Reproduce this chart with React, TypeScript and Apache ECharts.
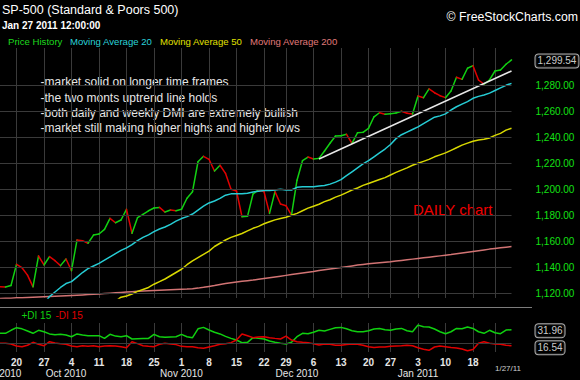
import { useEffect, useRef } from 'react';
import * as echarts from 'echarts';

// ---------- data ----------
const tradingDays = [
  '2010-09-15', '2010-09-16', '2010-09-17',
  '2010-09-20', '2010-09-21', '2010-09-22', '2010-09-23', '2010-09-24',
  '2010-09-27', '2010-09-28', '2010-09-29', '2010-09-30', '2010-10-01',
  '2010-10-04', '2010-10-05', '2010-10-06', '2010-10-07', '2010-10-08',
  '2010-10-11', '2010-10-12', '2010-10-13', '2010-10-14', '2010-10-15',
  '2010-10-18', '2010-10-19', '2010-10-20', '2010-10-21', '2010-10-22',
  '2010-10-25', '2010-10-26', '2010-10-27', '2010-10-28', '2010-10-29',
  '2010-11-01', '2010-11-02', '2010-11-03', '2010-11-04', '2010-11-05',
  '2010-11-08', '2010-11-09', '2010-11-10', '2010-11-11', '2010-11-12',
  '2010-11-15', '2010-11-16', '2010-11-17', '2010-11-18', '2010-11-19',
  '2010-11-22', '2010-11-23', '2010-11-24', '2010-11-26',
  '2010-11-29', '2010-11-30', '2010-12-01', '2010-12-02', '2010-12-03',
  '2010-12-06', '2010-12-07', '2010-12-08', '2010-12-09', '2010-12-10',
  '2010-12-13', '2010-12-14', '2010-12-15', '2010-12-16', '2010-12-17',
  '2010-12-20', '2010-12-21', '2010-12-22', '2010-12-23',
  '2010-12-27', '2010-12-28', '2010-12-29', '2010-12-30', '2010-12-31',
  '2011-01-03', '2011-01-04', '2011-01-05', '2011-01-06', '2011-01-07',
  '2011-01-10', '2011-01-11', '2011-01-12', '2011-01-13', '2011-01-14',
  '2011-01-18', '2011-01-19', '2011-01-20', '2011-01-21',
  '2011-01-24', '2011-01-25', '2011-01-26', '2011-01-27',
];

const closePrices = [
  1125.1, 1124.8, 1126.0, 1142.3, 1139.7, 1134.0, 1125.0, 1148.7, 1141.8, 1148.2,
  1145.1, 1141.3, 1146.4, 1137.4, 1161.0, 1160.5, 1158.5, 1164.8, 1165.6, 1169.2,
  1177.7, 1174.3, 1176.4, 1184.6, 1166.2, 1178.2, 1180.8, 1183.5, 1185.6, 1186.1,
  1182.5, 1184.1, 1183.5, 1184.6, 1193.1, 1198.2, 1221.2, 1225.4, 1223.1, 1214.1,
  1218.5, 1212.3, 1200.0, 1198.7, 1178.9, 1179.2, 1196.4, 1199.5, 1198.2, 1181.5,
  1198.2, 1188.7, 1187.4, 1180.2, 1207.0, 1222.0, 1224.8, 1223.3, 1223.8, 1229.5,
  1235.4, 1241.0, 1241.2, 1242.3, 1235.4, 1243.5, 1243.8, 1246.9, 1255.8, 1258.9,
  1257.7, 1258.2, 1258.7, 1260.0, 1258.5, 1257.9, 1271.8, 1270.5, 1277.2, 1274.3,
  1272.0, 1270.5, 1275.6, 1286.2, 1284.6, 1293.1, 1295.1, 1284.1, 1280.8, 1284.1,
  1291.0, 1291.8, 1296.2, 1299.54,
];

const ma20 = [
  null, null, null, null, null, null, null, null, 1112, 1117.5,
  1121, 1124.5, 1127.5, 1129, 1132.5, 1136, 1139, 1141, 1143, 1145.5,
  1148, 1150.5, 1153, 1155, 1157.5, 1160.5, 1163, 1165, 1167.5, 1169.5,
  1171, 1173, 1175.5, 1177.5, 1179, 1181, 1184, 1187, 1189.5, 1191,
  1193, 1195.5, 1196.5, 1196.5, 1196.5, 1197, 1198, 1198.5, 1199, 1199,
  1199.5, 1200, 1199.5, 1199.5, 1201.5, 1202, 1202, 1202, 1202.5, 1203,
  1204, 1205.5, 1207.5, 1210.5, 1213.5, 1216.5, 1219.5, 1222, 1225, 1228,
  1231, 1234.5, 1239, 1242, 1244, 1246, 1248, 1250.5, 1253, 1255.5,
  1256.5, 1258, 1261, 1263.5, 1265.5, 1267.5, 1270, 1271.5, 1272.5, 1274,
  1276, 1278, 1280, 1281.5,
];

const ma50 = [
  null, null, null, null, null, null, null, null, null, null,
  null, null, null, null, null, null, null, null, null, null,
  null, 1114, 1117, 1118, 1119.5, 1121.5, 1123, 1124.5, 1127, 1129,
  1131, 1133.5, 1136, 1138.5, 1142, 1145, 1147.5, 1150, 1152.5, 1156,
  1158.5, 1161, 1163, 1164.5, 1166, 1168, 1170, 1171.5, 1173.5, 1175,
  1176.5, 1177.5, 1178.5, 1180, 1181.5, 1183.5, 1185.5, 1187, 1188.5, 1190.5,
  1192, 1194, 1195.5, 1197.5, 1199.5, 1201, 1203, 1204.5, 1206, 1207.5,
  1209, 1211, 1213, 1214.8, 1216.5, 1218.5, 1220, 1221.5, 1223, 1225,
  1226.5, 1228, 1230, 1232, 1234, 1235.5, 1237, 1238, 1238.5, 1239.5,
  1241.5, 1243, 1245.5, 1247,
];

const ma200 = [
  1116.0, 1116.2, 1116.3, 1116.5, 1116.6, 1116.8, 1117.0, 1117.2, 1117.4, 1117.6,
  1117.8, 1118.0, 1118.2, 1118.4, 1118.6, 1118.8, 1119.0, 1119.2, 1119.5, 1119.8,
  1120.1, 1120.4, 1120.7, 1121.0, 1121.3, 1121.5, 1121.7, 1121.9, 1122.1, 1122.3,
  1122.5, 1122.7, 1122.9, 1123.1, 1123.3, 1123.6, 1124.0, 1124.6, 1125.3, 1126.0,
  1126.8, 1127.5, 1128.1, 1128.7, 1129.2, 1129.7, 1130.2, 1130.8, 1131.4, 1132.0,
  1132.6, 1133.2, 1133.8, 1134.4, 1135.0, 1135.6, 1136.2, 1136.8, 1137.5, 1138.1,
  1138.7, 1139.3, 1139.9, 1140.5, 1141.1, 1141.7, 1142.2, 1142.7, 1143.1, 1143.5,
  1143.9, 1144.3, 1144.8, 1145.3, 1145.8, 1146.3, 1146.8, 1147.3, 1147.8, 1148.3,
  1148.8, 1149.3, 1149.8, 1150.4, 1151.0, 1151.6, 1152.2, 1152.8, 1153.4, 1154.0,
  1154.5, 1155.0, 1155.5, 1156.0,
];

const plusDI = [
  28.5, 28.5, 31.4, 33.9, 32.8, 30.7, 28.5, 31.4, 30.0, 27.9,
  27.1, 27.5, 26.8, 25.2, 27.9, 26.8, 26.2, 26.2, 26.2, 23.6,
  27.5, 25.8, 25.2, 26.2, 23.0, 23.3, 23.6, 23.6, 27.5, 25.2,
  24.6, 24.9, 25.2, 27.5, 25.2, 24.3, 32.8, 34.2, 31.7, 29.5,
  27.9, 25.5, 23.6, 22.0, 19.4, 19.8, 24.3, 23.6, 23.0, 21.1,
  19.8, 18.9, 18.2, 19.8, 25.2, 28.5, 28.1, 29.5, 31.4, 30.7,
  32.3, 33.9, 34.2, 32.8, 31.0, 30.0, 30.0, 31.0, 32.6, 33.2,
  31.9, 31.4, 32.6, 33.2, 31.0, 30.0, 36.4, 34.8, 34.5, 32.6,
  30.0, 28.1, 30.0, 33.2, 32.8, 34.5, 33.2, 30.0, 28.5, 31.4,
  29.0, 28.1, 31.6, 31.96,
];

const minusDI = [
  18.9, 18.9, 18.2, 16.2, 15.6, 17.0, 19.8, 17.9, 16.5, 20.4,
  19.2, 18.5, 17.9, 16.2, 15.6, 16.5, 15.9, 16.5, 15.6, 16.2,
  16.5, 16.2, 15.6, 14.6, 20.4, 18.5, 16.5, 15.9, 15.6, 17.9,
  18.9, 18.2, 17.6, 15.9, 15.6, 15.6, 14.6, 14.1, 15.3, 16.5,
  17.9, 18.5, 19.5, 22.0, 27.9, 26.2, 24.3, 24.9, 25.2, 24.3,
  23.6, 23.0, 25.8, 22.0, 20.4, 19.8, 19.5, 18.5, 17.3, 18.2,
  17.9, 17.0, 17.0, 17.6, 18.2, 17.9, 17.0, 15.6, 14.9, 15.3,
  15.3, 15.9, 16.2, 16.5, 17.0, 16.5, 14.6, 13.1, 12.1, 15.3,
  16.2, 15.6, 14.9, 14.4, 13.4, 11.7, 12.8, 18.9, 20.4, 18.9,
  18.2, 17.9, 17.0, 16.54,
];

const priceTicks = [1120, 1140, 1160, 1180, 1200, 1220, 1240, 1260, 1280];
const weekStarts = [
  '2010-09-20', '2010-09-27', '2010-10-04', '2010-10-11', '2010-10-18', '2010-10-25',
  '2010-11-01', '2010-11-08', '2010-11-15', '2010-11-22', '2010-11-29', '2010-12-06',
  '2010-12-13', '2010-12-20', '2010-12-27', '2011-01-03', '2011-01-10', '2011-01-18',
  '2011-01-24',
];
const unlabeledWeeks = ['2011-01-24'];
const monthStarts = ['2010-09-15', '2010-10-01', '2010-11-01', '2010-12-01', '2011-01-03'];
const monthNames = ['Jan', 'Feb', 'Mar', 'Apr', 'May', 'Jun', 'Jul', 'Aug', 'Sep', 'Oct', 'Nov', 'Dec'];
const trendLine = [['2010-12-07', 1223.3], ['2011-01-27', 1291.0]];
const dmiRefLevel = 18.85;
const notes = [
  '-market solid on longer time frames',
  '-the two monts uptrend line holds',
  '-both daily and weekly DMI are extremely bullish',
  '-market still making higher highs and higher lows',
];
const legendItems = [
  { name: 'Price History', color: '#1ed81e' },
  { name: 'Moving Average 20', color: '#2ad2d8' },
  { name: 'Moving Average 50', color: '#e0e000' },
  { name: 'Moving Average 200', color: '#e07a7a' },
];

// ---------- styles ----------
const FONT = '"Liberation Sans", Arial, sans-serif';
const GRID = '#3a3a3a';
const UP = '#12d012';
const DOWN = '#e00000';

const fmtPrice = (v: number) =>
  v.toLocaleString('en-US', { minimumFractionDigits: 2, maximumFractionDigits: 2 });

export default function App() {
  const ref = useRef<HTMLDivElement>(null);

  useEffect(() => {
    const chart = echarts.init(ref.current!, null, { renderer: 'svg' });
    const lastIdx = closePrices.length - 1;
    const lastDay = tradingDays[lastIdx];
    const segments = closePrices.slice(0, -1).map((v, i) => [i, v, closePrices[i + 1]]);

    const boxLabel = (offsetY: number) => ({
      show: true,
      position: 'right',
      distance: 24,
      offset: [0, offsetY],
      color: '#ffffff',
      fontSize: 10,
      fontFamily: FONT,
      backgroundColor: '#000',
      borderColor: '#d8d8d8',
      borderWidth: 1,
      borderRadius: 3,
      padding: [2, 2, 1, 2],
    });

    const legendX = [8, 70, 160, 250];

    const option: any = {
      animation: false,
      backgroundColor: '#000000',
      grid: [
        { left: 0, right: 68.5, top: 48, height: 250, outerBoundsMode: 'none', containLabel: false },
        { left: 0, right: 68.5, top: 323, height: 29, outerBoundsMode: 'none', containLabel: false },
      ],
      xAxis: [
        {
          type: 'category', gridIndex: 0, data: tradingDays, boundaryGap: false,
          axisLine: { show: false }, axisTick: { show: false }, axisLabel: { show: false },
          splitLine: {
            show: true,
            interval: (_i: number, v: string) => weekStarts.includes(v),
            lineStyle: { color: GRID, width: 1 },
          },
        },
        {
          type: 'category', gridIndex: 1, data: tradingDays, boundaryGap: false,
          axisLine: { show: false }, axisTick: { show: false },
          axisLabel: {
            show: true,
            interval: (_i: number, v: string) => weekStarts.includes(v) && !unlabeledWeeks.includes(v),
            formatter: (v: string) => String(Number(v.slice(8, 10))),
            color: '#e6e6e6', fontSize: 10, fontWeight: 'bold', fontFamily: FONT, margin: 5,
          },
          splitLine: {
            show: true,
            interval: (_i: number, v: string) => weekStarts.includes(v),
            lineStyle: { color: GRID, width: 1 },
          },
        },
        {
          type: 'category', gridIndex: 1, data: tradingDays, boundaryGap: false, offset: 11,
          position: 'bottom',
          axisLine: { show: false }, axisTick: { show: false }, splitLine: { show: false },
          axisLabel: {
            show: true,
            alignMinLabel: 'center',
            interval: (_i: number, v: string) => monthStarts.includes(v),
            formatter: (v: string) => `${monthNames[Number(v.slice(5, 7)) - 1]} ${v.slice(0, 4)}`,
            color: '#e6e6e6', fontSize: 10, fontFamily: FONT, margin: 5,
          },
        },
      ],
      yAxis: [
        {
          type: 'value', gridIndex: 0, position: 'right', min: 1116.4, max: 1308.7,
          splitNumber: 10,
          axisLine: { show: false }, axisTick: { show: false }, splitLine: { show: false },
          axisLabel: {
            customValues: priceTicks,
            formatter: (v: number) => (priceTicks.includes(v) ? fmtPrice(v) : ''),
            color: '#14e014', fontSize: 10, fontFamily: FONT, margin: 24, align: 'left',
          },
        },
        {
          type: 'value', gridIndex: 1, min: 10.47, max: 38.42, show: false,
          splitLine: { show: false },
        },
      ],
      series: [
        {
          name: 'priceGrid', type: 'line', xAxisIndex: 0, yAxisIndex: 0, data: [], z: 1,
          markLine: {
            silent: true, symbol: ['none', 'none'], label: { show: false },
            lineStyle: { color: GRID, width: 1, type: 'solid' },
            data: priceTicks.map((v) => ({ yAxis: v })),
          },
        },
        {
          name: 'dmiGrid', type: 'line', xAxisIndex: 1, yAxisIndex: 1, data: [], z: 1,
          markLine: {
            silent: true, symbol: ['none', 'none'], label: { show: false },
            lineStyle: { color: GRID, width: 1, type: 'solid' },
            data: [{ yAxis: dmiRefLevel }],
          },
        },
        {
          name: 'Moving Average 200', type: 'line', xAxisIndex: 0, yAxisIndex: 0, data: ma200,
          symbol: 'none', lineStyle: { color: '#d27474', width: 1.5 },
        },
        {
          name: 'Moving Average 50', type: 'line', xAxisIndex: 0, yAxisIndex: 0, data: ma50,
          symbol: 'none', lineStyle: { color: '#d8d800', width: 1.5 },
        },
        {
          name: 'Moving Average 20', type: 'line', xAxisIndex: 0, yAxisIndex: 0, data: ma20,
          symbol: 'none', lineStyle: { color: '#26ccd4', width: 1.5 },
        },
        {
          name: 'Price History', type: 'custom', xAxisIndex: 0, yAxisIndex: 0,
          data: segments,
          encode: { x: 0, y: [1, 2] },
          renderItem: (_p: any, api: any) => {
            const i = api.value(0);
            const a = api.value(1);
            const b = api.value(2);
            const p0 = api.coord([i, a]);
            const p1 = api.coord([i + 1, b]);
            return {
              type: 'line',
              shape: { x1: p0[0], y1: p0[1], x2: p1[0], y2: p1[1] },
              style: { stroke: b >= a ? UP : DOWN, lineWidth: 1.5, lineCap: 'round' },
            };
          },
        },
        {
          name: 'Trend', type: 'line', xAxisIndex: 0, yAxisIndex: 0, data: trendLine,
          symbol: 'circle', symbolSize: 7, showSymbol: true,
          lineStyle: { color: '#e8e8e8', width: 1.5 },
          itemStyle: { color: '#1a1a1a', borderColor: '#a8a8a8', borderWidth: 1 },
          z: 4,
        },
        {
          name: 'LastPrice', type: 'scatter', xAxisIndex: 0, yAxisIndex: 0, symbolSize: 0,
          data: [[lastDay, closePrices[lastIdx]]],
          label: { ...boxLabel(1), formatter: (p: any) => fmtPrice(p.value[1]) },
        },
        {
          name: '+DI 15', type: 'line', xAxisIndex: 1, yAxisIndex: 1, data: plusDI,
          symbol: 'none', lineStyle: { color: '#10d010', width: 1.5 },
        },
        {
          name: '-DI 15', type: 'line', xAxisIndex: 1, yAxisIndex: 1, data: minusDI,
          symbol: 'none', lineStyle: { color: '#e00000', width: 1.5 },
        },
        {
          name: 'DMI last', type: 'scatter', xAxisIndex: 1, yAxisIndex: 1, symbolSize: 0,
          data: [
            { value: [lastDay, plusDI[lastIdx]], label: boxLabel(1) },
            { value: [lastDay, minusDI[lastIdx]], label: boxLabel(2) },
          ],
          label: { formatter: (p: any) => Number(p.value[1]).toFixed(2) },
        },
      ],
      graphic: [
        {
          type: 'line', silent: true,
          shape: { x1: 0, y1: 307.5, x2: 532, y2: 307.5 },
          style: { stroke: '#7c7c7c', lineWidth: 1 },
        },
        {
          type: 'text', x: 2, y: 9.5,
          style: { text: 'SP-500 (Standard & Poors 500)', fill: '#ffffff', fontSize: 12.5, fontFamily: FONT, verticalAlign: 'middle' },
        },
        {
          type: 'text', x: 2, y: 25.5,
          style: { text: 'Jan 27 2011 12:00:00', fill: '#ffffff', fontSize: 10, fontWeight: 'bold', fontFamily: FONT, verticalAlign: 'middle' },
        },
        {
          type: 'text', x: 578, y: 17,
          style: { text: '© FreeStockCharts.com', fill: '#ffffff', fontSize: 12.3, fontFamily: FONT, align: 'right', verticalAlign: 'middle' },
        },
        ...legendItems.map((it, k) => ({
          type: 'text', x: legendX[k], y: 41,
          style: { text: it.name, fill: it.color, fontSize: 9.6, fontFamily: FONT, verticalAlign: 'middle' },
        })),
        ...notes.map((t, k) => ({
          type: 'text', x: 40.5, y: [82.3, 98.3, 113.3, 128.3][k],
          style: { text: t, fill: '#e6e6e6', fontSize: 12, fontFamily: FONT, verticalAlign: 'middle' },
        })),
        {
          type: 'text', x: 413, y: 209,
          style: { text: 'DAILY chart', fill: '#f00000', fontSize: 15, fontFamily: FONT, verticalAlign: 'middle' },
        },
        {
          type: 'text', x: 21.5, y: 315,
          style: { text: '+DI 15', fill: '#10d010', fontSize: 10, fontFamily: FONT, verticalAlign: 'middle' },
        },
        {
          type: 'text', x: 55.5, y: 315,
          style: { text: '-DI 15', fill: '#e00000', fontSize: 10, fontFamily: FONT, verticalAlign: 'middle' },
        },
        {
          type: 'text', x: 508, y: 368,
          style: { text: '1/27/11', fill: '#cfcfcf', fontSize: 8, fontFamily: FONT, align: 'center', verticalAlign: 'middle' },
        },
      ],
    };

    chart.setOption(option);
    return () => chart.dispose();
  }, []);

  return (
    <div
      ref={ref}
      style={{ position: 'fixed', left: 0, top: 0, width: 580, height: 380, background: '#000' }}
    />
  );
}
